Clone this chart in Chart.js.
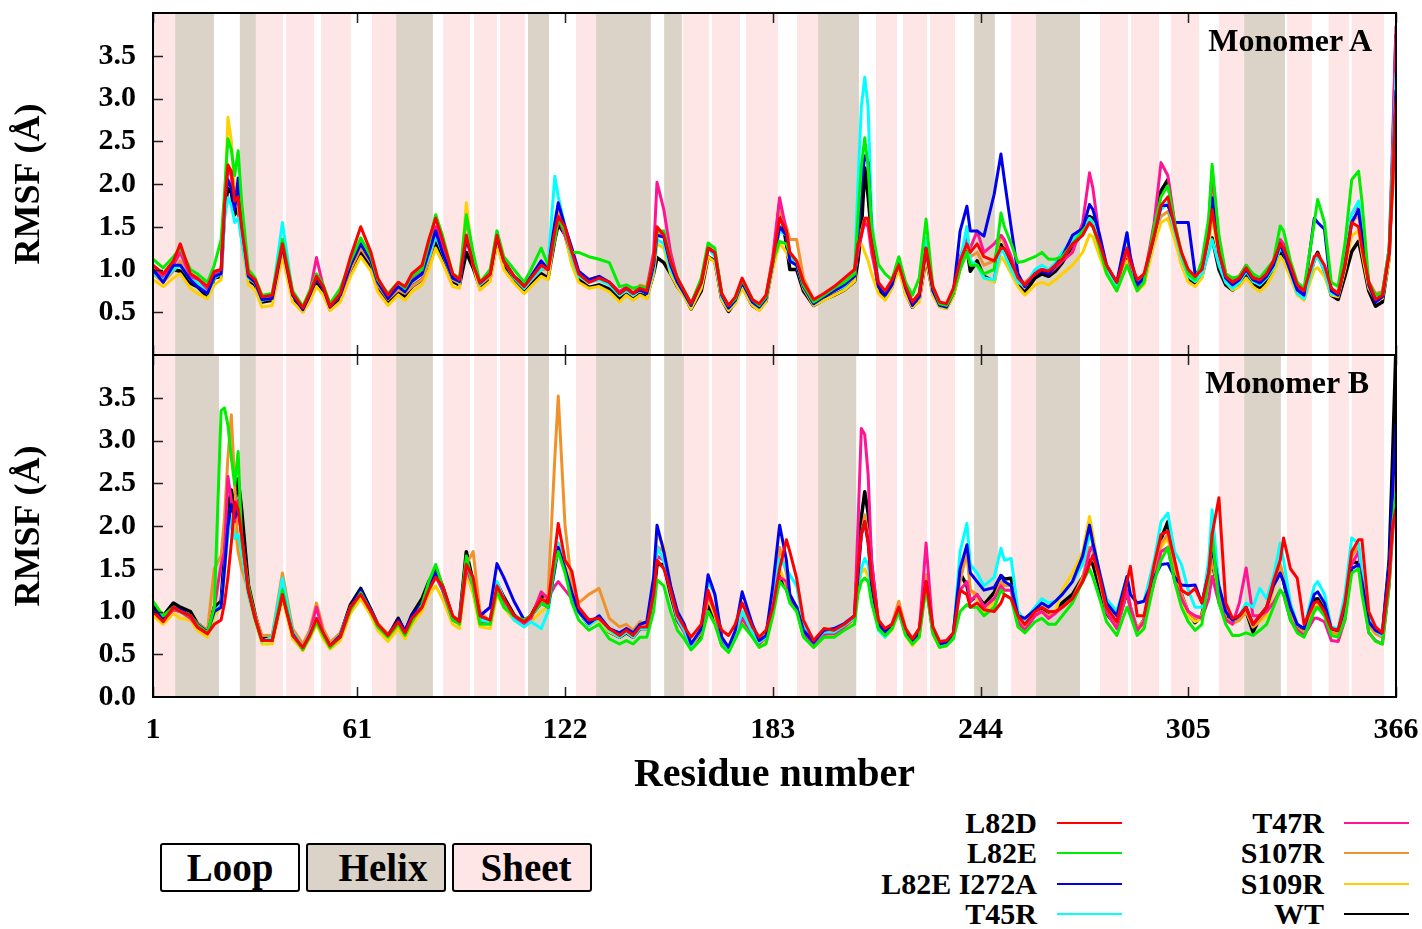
<!DOCTYPE html>
<html>
<head>
<meta charset="utf-8">
<script src="https://cdn.jsdelivr.net/npm/chart.js@4.4.1/dist/chart.umd.min.js"></script>
<style>
  body { margin: 0; background: #fff; }
  #wrap { position: relative; width: 1422px; height: 929px; overflow: hidden;
          font-family: 'Liberation Serif', 'Times New Roman', serif; font-weight: bold; color: #000; }
  canvas { position: absolute; left: 0; }
  .mono { position: absolute; width: 300px; text-align: right; font-size: 32px; line-height: 38px; }
  .lab { position: absolute; width: 260px; text-align: right; font-size: 30px; line-height: 36px; }
  .swatch { position: absolute; height: 0; border-top: 2.5px solid; }
  .box { position: absolute; box-sizing: border-box; height: 49px; width: 140px; border: 2px solid #000;
         border-radius: 3px; font-size: 39px; line-height: 45px; text-align: center; }
</style>
</head>
<body>
<div id="wrap">
  <canvas id="chartA" width="1422" height="356" style="top:0"></canvas>
  <canvas id="chartB" width="1422" height="460" style="top:340px"></canvas>
  <div class="mono" style="left:1072px; top:21px">Monomer A</div>
  <div class="mono" style="left:1069px; top:363px">Monomer B</div>
  <div class="box" style="left:160px; top:843px; background:#fff">Loop</div>
  <div class="box" style="left:306px; top:843px; background:#dcd3c8; padding-left:14px">Helix</div>
  <div class="box" style="left:452px; top:843px; background:#fee6e6; padding-left:8px">Sheet</div>
  <div id="legend"></div>
</div>
<script>
// residue positions sampled along the x axis (shared by both monomers)
const RESIDUES = [1,4,7,9,12,14,17,19,21,22,
  23,24,25,26,27,29,31,33,36,39,
  42,45,47,49,51,53,56,59,62,65,
  67,70,73,75,77,80,82,84,86,89,
  91,93,95,97,100,102,104,107,110,112,
  115,117,119,120,122,124,126,129,132,135,
  138,140,142,144,146,148,149,151,153,155,
  157,159,162,164,166,168,170,172,174,177,
  179,181,183,185,187,188,190,192,195,198,
  201,204,207,208,209,210,211,212,214,216,
  218,220,222,224,226,228,230,232,234,236,
  238,240,241,243,245,248,250,251,253,255,
  257,260,262,264,266,268,271,274,276,277,
  279,281,284,287,288,290,292,295,297,299,
  301,303,305,307,309,311,312,314,316,318,
  320,322,324,326,328,330,332,333,335,337,
  339,342,343,345,347,349,351,353,355,356,
  358,360,362,364,365,366];

const X_TICKS = [1, 61, 122, 183, 244, 305, 366];

// secondary structure ranges (residue start, end)
const HELIX_A = [[7.5,18.9],[26.5,31.2],[72.4,83.2],[111.1,117.3],[131.1,147.2],[151.1,156.3],[196.3,208.3],[242.1,248.2],[260.3,273.2],[321.4,333.4]];
const SHEET_A = [[1,7.5],[31.2,39.2],[40.1,48.3],[50.3,59.1],[65.3,72.4],[86.2,94.1],[95.3,102.0],[102.9,110.2],[125.2,131.1],[156.6,164.3],[165.1,173.4],[175.1,184.5],[190.1,196.3],[213.3,219.5],[221.2,228.3],[229.2,236.5],[253.0,260.3],[279.1,287.3],[288.2,296.4],[299.9,308.2],[314.0,321.4],[334.0,341.3],[346.2,352.2],[353.0,362.5]];
const HELIX_B = [[7.5,20.4],[26.5,31.2],[72.4,83.2],[111.1,117.3],[131.1,147.2],[151.1,156.9],[196.3,207.5],[242.1,249.1],[260.3,273.2],[321.4,332.2]];
const SHEET_B = SHEET_A;

const SERIES_NAMES = ['L82D', 'L82E', 'L82E I272A', 'T45R', 'T47R', 'S107R', 'S109R', 'WT'];
const SERIES_COLORS = ['#ff0000', '#00ee00', '#0000ee', '#00ffff', '#ff1493', '#f0922b', '#ffd000', '#000000'];

// ---- Monomer A RMSF ----
const L82D_A = [1.05,0.95,1.10,1.30,0.95,0.90,0.80,0.98,1.00,1.75,
  2.22,2.15,1.80,1.85,1.50,0.95,0.88,0.68,0.70,1.30,
  0.72,0.55,0.72,0.92,0.80,0.57,0.72,1.15,1.50,1.20,
  0.90,0.70,0.85,0.80,0.95,1.05,1.35,1.60,1.35,0.95,
  0.88,1.40,1.05,0.85,0.95,1.40,1.10,0.92,0.80,0.90,
  1.05,1.00,1.45,1.62,1.50,1.20,0.95,0.85,0.90,0.85,
  0.72,0.78,0.72,0.78,0.75,1.10,1.50,1.40,1.10,0.90,
  0.75,0.60,0.85,1.25,1.20,0.72,0.58,0.68,0.90,0.65,
  0.60,0.70,1.10,1.60,1.45,1.20,1.10,0.85,0.65,0.72,
  0.80,0.90,1.00,1.30,1.40,1.60,1.60,1.30,0.85,0.75,
  0.88,1.05,0.80,0.62,0.72,1.25,0.80,0.62,0.60,0.78,
  1.10,1.30,1.20,1.30,1.15,1.10,1.25,1.25,1.10,0.90,
  0.82,0.95,1.00,0.98,1.05,1.12,1.30,1.40,1.55,1.50,
  1.30,1.05,0.85,1.25,1.10,0.88,0.95,1.40,1.75,1.85,
  1.50,1.20,1.00,0.92,1.00,1.40,1.70,1.20,0.92,0.85,
  0.90,1.02,0.90,0.88,0.95,1.10,1.30,1.25,1.05,0.82,
  0.75,1.15,1.18,1.05,0.78,0.72,1.05,1.55,1.50,1.25,
  0.85,0.65,0.70,1.20,2.00,3.00];
const L82E_A = [1.12,1.02,1.15,1.25,1.00,0.95,0.85,1.05,1.35,1.90,
  2.53,2.40,2.10,2.39,1.80,1.00,0.90,0.70,0.72,1.35,
  0.75,0.57,0.75,0.95,0.82,0.60,0.78,1.10,1.37,1.15,
  0.88,0.72,0.85,0.78,0.92,1.00,1.30,1.64,1.40,0.95,
  0.90,1.64,1.20,0.85,1.00,1.45,1.15,1.00,0.85,1.00,
  1.25,1.05,1.35,1.60,1.45,1.20,1.20,1.15,1.12,1.08,
  0.80,0.82,0.78,0.80,0.78,1.10,1.45,1.45,1.10,0.90,
  0.75,0.60,0.90,1.31,1.25,0.72,0.58,0.66,0.88,0.65,
  0.58,0.68,1.10,1.33,1.30,1.20,1.10,0.82,0.62,0.70,
  0.78,0.85,0.95,1.60,2.20,2.54,2.20,1.50,1.06,0.95,
  0.88,1.15,0.85,0.70,0.90,1.59,0.80,0.60,0.58,0.72,
  1.00,1.20,1.05,1.05,0.95,1.00,1.66,1.50,1.30,1.08,
  1.10,1.15,1.20,1.12,1.12,1.15,1.30,1.45,1.55,1.50,
  1.25,0.95,0.75,1.05,0.95,0.75,0.85,1.50,1.85,1.98,
  1.55,1.20,0.95,0.88,1.10,1.60,2.23,1.40,0.95,0.90,
  0.92,1.05,0.95,0.90,1.00,1.10,1.51,1.45,1.10,0.85,
  0.78,1.55,1.82,1.55,0.85,0.80,1.30,2.05,2.15,1.80,
  0.85,0.70,0.72,1.25,2.10,2.90];
const L82E_I272A_A = [1.00,0.85,1.05,1.05,0.88,0.80,0.72,0.92,0.95,1.80,
  2.05,1.95,1.70,2.07,1.55,0.92,0.85,0.65,0.66,1.28,
  0.70,0.53,0.70,0.90,0.78,0.56,0.70,1.05,1.30,1.10,
  0.85,0.66,0.80,0.74,0.86,0.95,1.20,1.45,1.20,0.90,
  0.86,1.35,1.10,0.84,0.95,1.38,1.10,0.92,0.82,0.92,
  1.10,1.00,1.55,1.78,1.50,1.25,0.98,0.88,0.92,0.85,
  0.72,0.78,0.72,0.76,0.72,1.05,1.40,1.38,1.05,0.85,
  0.72,0.58,0.85,1.25,1.20,0.70,0.55,0.64,0.85,0.62,
  0.56,0.66,1.08,1.50,1.40,1.10,1.05,0.80,0.60,0.68,
  0.75,0.82,0.92,1.40,2.00,2.33,2.25,1.45,0.80,0.70,
  0.82,1.10,0.78,0.58,0.68,1.25,0.75,0.58,0.56,0.72,
  1.45,1.74,1.45,1.45,1.39,1.88,2.35,2.05,1.49,0.95,
  0.80,0.95,0.98,0.95,1.05,1.15,1.40,1.48,1.76,1.70,
  1.40,1.05,0.85,1.43,1.15,0.82,0.90,1.40,1.75,1.75,
  1.55,1.55,1.55,0.95,1.00,1.40,1.84,1.20,0.90,0.82,
  0.88,1.00,0.88,0.84,0.92,1.05,1.30,1.20,0.98,0.76,
  0.70,1.60,1.55,1.47,0.75,0.70,1.05,1.55,1.70,1.40,
  0.82,0.62,0.68,1.20,2.10,3.10];
const T45R_A = [0.95,0.88,1.00,1.05,0.88,0.85,0.72,0.90,0.95,1.60,
  1.84,1.75,1.55,1.60,1.35,0.90,0.85,0.64,0.68,1.55,
  0.72,0.54,0.72,0.92,0.80,0.57,0.72,1.10,1.35,1.12,
  0.85,0.68,0.80,0.74,0.86,0.95,1.15,1.40,1.20,0.90,
  0.85,1.40,1.10,0.83,0.95,1.45,1.10,0.90,0.78,0.88,
  1.00,1.05,2.09,1.85,1.50,1.15,0.92,0.85,0.88,0.82,
  0.70,0.76,0.70,0.76,0.72,1.00,1.35,1.30,1.00,0.85,
  0.72,0.58,0.85,1.25,1.15,0.68,0.55,0.64,0.85,0.62,
  0.56,0.66,1.08,1.45,1.40,1.15,1.05,0.80,0.60,0.68,
  0.76,0.80,0.95,2.00,2.90,3.25,2.90,1.60,0.85,0.70,
  0.85,1.10,0.78,0.60,0.70,1.37,0.76,0.58,0.56,0.75,
  1.10,1.50,1.10,1.05,0.90,0.88,1.25,1.18,1.00,0.85,
  0.80,1.00,1.05,1.00,1.08,1.20,1.35,1.45,1.60,1.55,
  1.30,1.00,0.80,1.43,1.10,0.82,0.90,1.40,1.70,1.78,
  1.45,1.15,0.92,0.86,0.95,1.20,1.35,1.05,0.85,0.78,
  0.85,0.98,0.86,0.82,0.90,1.02,1.25,1.20,0.98,0.72,
  0.66,1.10,1.15,0.98,0.72,0.70,1.10,1.65,1.80,1.45,
  0.85,0.68,0.70,1.25,2.20,3.30];
const T47R_A = [1.00,0.92,1.05,1.20,0.92,0.88,0.75,0.95,1.00,1.80,
  2.19,2.10,1.80,1.85,1.45,0.92,0.86,0.66,0.68,1.35,
  0.72,0.55,0.72,1.14,0.80,0.58,0.72,1.05,1.30,1.12,
  0.86,0.68,0.80,0.75,0.88,0.98,1.25,1.50,1.25,0.92,
  0.86,1.40,1.10,0.84,0.95,1.40,1.10,0.92,0.80,0.90,
  1.05,1.00,1.35,1.60,1.40,1.18,0.96,0.88,0.90,0.85,
  0.74,0.80,0.72,0.80,0.78,1.20,2.02,1.70,1.20,0.88,
  0.74,0.60,0.85,1.25,1.18,0.70,0.56,0.66,0.88,0.64,
  0.58,0.68,1.15,1.84,1.45,1.20,1.10,0.85,0.64,0.70,
  0.78,0.85,0.95,1.20,1.40,1.55,1.50,1.20,0.82,0.72,
  0.86,1.08,0.80,0.62,0.72,1.25,0.78,0.60,0.58,0.75,
  1.15,1.35,1.25,1.45,1.20,1.30,1.40,1.35,1.15,0.88,
  0.82,0.98,1.00,0.95,1.02,1.10,1.20,1.55,2.13,1.95,
  1.35,1.00,0.80,1.25,1.05,0.80,0.88,1.55,2.25,2.10,
  1.55,1.15,0.95,0.88,1.05,1.55,2.15,1.30,0.95,0.86,
  0.92,1.05,0.92,0.88,0.96,1.08,1.35,1.30,1.05,0.80,
  0.72,1.10,1.18,1.00,0.76,0.72,1.10,1.65,1.76,1.40,
  0.85,0.70,0.72,1.25,2.50,3.85];
const S107R_A = [0.95,0.85,0.98,1.10,0.88,0.82,0.74,0.92,0.98,1.75,
  2.23,2.10,1.75,1.80,1.40,0.90,0.84,0.64,0.66,1.25,
  0.70,0.54,0.70,0.90,0.78,0.56,0.70,1.00,1.25,1.08,
  0.82,0.65,0.76,0.72,0.80,0.88,1.10,1.40,1.20,0.88,
  0.84,1.60,1.10,0.82,0.92,1.40,1.10,0.92,0.80,0.88,
  1.00,1.00,1.50,1.70,1.45,1.15,0.95,0.88,0.92,0.85,
  0.72,0.80,0.72,0.82,0.80,1.10,1.45,1.40,1.05,0.88,
  0.75,0.60,0.88,1.28,1.20,0.72,0.58,0.66,0.88,0.64,
  0.58,0.68,1.15,1.70,1.50,1.35,1.35,0.90,0.64,0.70,
  0.78,0.84,0.95,1.25,1.45,1.60,1.55,1.25,0.82,0.72,
  0.86,1.10,0.80,0.62,0.72,1.20,0.78,0.60,0.58,0.74,
  1.05,1.30,1.15,1.20,1.05,1.10,1.40,1.30,1.12,0.88,
  0.85,0.95,1.00,1.00,1.05,1.12,1.30,1.45,1.57,1.55,
  1.35,1.05,0.85,1.20,1.05,0.85,0.92,1.45,1.62,1.68,
  1.45,1.20,0.95,0.90,1.05,1.45,1.96,1.25,0.95,0.88,
  0.92,1.05,0.92,0.88,0.96,1.10,1.35,1.28,1.05,0.80,
  0.74,1.10,1.18,1.00,0.76,0.74,1.10,1.55,1.64,1.35,
  0.86,0.72,0.74,1.20,1.90,2.40];
const S109R_A = [0.88,0.80,0.90,0.95,0.78,0.72,0.66,0.82,0.88,1.70,
  2.78,2.50,1.90,1.75,1.35,0.82,0.76,0.56,0.58,1.15,
  0.62,0.50,0.62,0.80,0.70,0.52,0.62,0.92,1.15,0.98,
  0.74,0.58,0.70,0.64,0.74,0.82,1.00,1.25,1.08,0.80,
  0.78,1.78,1.05,0.76,0.86,1.30,1.00,0.84,0.72,0.80,
  0.92,0.88,1.40,1.65,1.40,1.05,0.85,0.78,0.80,0.74,
  0.62,0.70,0.64,0.70,0.66,0.95,1.30,1.25,0.95,0.80,
  0.68,0.54,0.78,1.15,1.08,0.64,0.52,0.60,0.78,0.58,
  0.52,0.62,1.00,1.31,1.20,1.10,1.05,0.78,0.58,0.64,
  0.70,0.76,0.86,1.35,1.30,1.20,1.10,0.95,0.72,0.64,
  0.78,1.00,0.70,0.56,0.62,1.15,0.70,0.56,0.54,0.68,
  1.00,1.50,1.10,1.05,0.90,0.85,1.15,1.10,0.95,0.80,
  0.70,0.82,0.85,0.82,0.88,0.95,1.05,1.20,1.41,1.38,
  1.15,0.95,0.75,1.10,0.95,0.75,0.82,1.30,1.55,1.60,
  1.35,1.05,0.85,0.80,0.90,1.25,1.64,1.15,0.85,0.76,
  0.80,0.90,0.80,0.74,0.82,0.95,1.15,1.10,0.90,0.70,
  0.64,1.00,1.02,0.92,0.70,0.68,1.00,1.40,1.45,1.20,
  0.78,0.64,0.66,1.10,2.20,2.80];
const WT_A = [0.98,0.88,1.00,0.98,0.84,0.80,0.68,0.90,0.92,1.68,
  1.95,1.90,1.64,1.72,1.40,0.88,0.82,0.62,0.64,1.23,
  0.67,0.51,0.67,0.86,0.75,0.53,0.67,0.98,1.20,1.02,
  0.79,0.62,0.75,0.69,0.80,0.88,1.06,1.31,1.12,0.86,
  0.82,1.20,1.02,0.79,0.90,1.33,1.04,0.87,0.73,0.82,
  0.95,0.90,1.35,1.53,1.41,1.10,0.88,0.79,0.82,0.77,
  0.65,0.71,0.65,0.71,0.68,0.95,1.14,1.08,0.95,0.80,
  0.70,0.54,0.75,1.15,1.10,0.65,0.51,0.62,0.80,0.58,
  0.53,0.63,1.05,1.76,1.30,1.00,1.00,0.75,0.58,0.65,
  0.70,0.76,0.86,1.10,1.45,2.19,1.85,1.40,0.75,0.66,
  0.80,1.12,0.72,0.56,0.65,1.14,0.72,0.57,0.55,0.70,
  1.02,1.25,0.98,1.10,0.92,0.86,1.29,1.22,1.05,0.82,
  0.73,0.90,0.95,0.92,0.98,1.08,1.28,1.42,1.62,1.60,
  1.29,1.00,0.78,1.14,0.98,0.78,0.84,1.45,1.92,2.05,
  1.48,1.12,0.90,0.84,0.92,1.25,1.37,1.00,0.82,0.76,
  0.82,0.94,0.82,0.79,0.86,0.98,1.23,1.16,0.95,0.73,
  0.66,1.12,1.20,0.98,0.70,0.65,0.92,1.21,1.33,1.15,
  0.75,0.57,0.62,1.14,2.20,3.75];

// ---- Monomer B RMSF ----
const L82D_B = [1.00,0.88,1.05,1.00,0.95,0.82,0.74,0.85,0.90,1.10,
  1.40,1.80,2.28,2.20,1.90,1.25,0.92,0.66,0.66,1.20,
  0.72,0.58,0.72,0.92,0.75,0.60,0.70,1.05,1.20,1.00,
  0.85,0.72,0.88,0.75,0.92,1.05,1.25,1.40,1.30,0.95,
  0.88,1.55,1.40,0.95,0.90,1.30,1.15,0.95,0.88,0.95,
  1.15,1.10,1.70,2.03,1.60,1.47,1.05,0.90,0.92,0.80,
  0.72,0.78,0.72,0.82,0.82,1.20,1.60,1.50,1.25,0.95,
  0.82,0.70,0.85,1.25,1.00,0.78,0.72,0.85,1.10,0.82,
  0.70,0.78,1.05,1.50,1.84,1.70,1.39,0.90,0.66,0.80,
  0.78,0.85,0.95,1.50,1.90,2.05,1.80,1.40,0.90,0.80,
  0.85,1.05,0.80,0.68,0.80,1.35,0.82,0.65,0.66,0.75,
  1.25,1.20,1.05,1.10,1.02,1.00,1.10,1.20,1.15,0.95,
  0.85,1.00,1.05,1.00,1.00,1.05,1.15,1.35,1.55,1.66,
  1.40,1.05,0.88,1.35,1.53,0.95,0.95,1.55,1.90,1.94,
  1.60,1.25,1.20,1.27,1.10,1.45,1.90,2.33,1.10,0.92,
  0.95,1.05,0.85,0.95,1.05,1.35,1.60,1.86,1.50,1.39,
  0.85,1.10,1.12,1.00,0.80,0.78,1.10,1.70,1.84,1.84,
  1.00,0.82,0.75,1.40,2.00,2.20];
const L82E_B = [1.12,0.95,1.05,1.00,0.95,0.84,0.75,1.05,3.35,3.38,
  3.18,2.80,2.48,2.87,1.85,1.30,0.92,0.66,0.66,1.25,
  0.72,0.56,0.70,0.88,0.72,0.58,0.70,1.02,1.22,1.00,
  0.82,0.70,0.85,0.72,0.88,1.08,1.35,1.55,1.30,0.90,
  0.85,1.65,1.30,0.85,0.85,1.25,1.05,0.95,0.90,0.95,
  1.10,1.05,1.55,1.70,1.45,1.10,0.90,0.78,0.85,0.68,
  0.62,0.66,0.62,0.70,0.70,1.00,1.37,1.30,1.00,0.78,
  0.68,0.55,0.68,1.00,0.85,0.60,0.52,0.68,0.85,0.70,
  0.58,0.62,0.95,1.35,1.25,1.10,1.00,0.70,0.58,0.70,
  0.70,0.78,0.85,1.20,1.35,1.39,1.35,1.10,0.80,0.72,
  0.80,1.00,0.72,0.62,0.70,1.30,0.74,0.58,0.60,0.68,
  1.00,1.08,1.05,1.05,0.95,1.05,1.25,1.20,1.15,0.82,
  0.75,0.88,0.92,0.85,0.85,0.95,1.10,1.35,1.50,1.40,
  1.15,0.88,0.72,1.05,0.95,0.72,0.80,1.35,1.60,1.75,
  1.35,1.05,0.88,0.78,0.85,1.40,1.92,1.10,0.85,0.72,
  0.72,0.75,0.72,0.78,0.85,1.05,1.25,1.20,0.90,0.75,
  0.70,1.00,1.05,0.95,0.72,0.70,0.90,1.45,1.50,1.20,
  0.76,0.65,0.62,1.30,2.00,2.40];
const L82E_I272A_B = [1.02,0.92,1.05,1.02,0.95,0.85,0.76,1.00,1.05,1.50,
  2.00,2.25,2.10,2.20,1.90,1.25,0.92,0.66,0.66,1.20,
  0.74,0.56,0.72,0.90,0.74,0.60,0.72,1.05,1.25,1.02,
  0.84,0.72,0.90,0.78,0.95,1.10,1.30,1.45,1.28,0.92,
  0.90,1.60,1.35,0.95,1.05,1.56,1.40,1.12,0.90,0.95,
  1.10,1.05,1.50,1.75,1.50,1.22,1.00,0.86,0.95,0.80,
  0.75,0.80,0.75,0.85,0.88,1.40,2.01,1.70,1.30,1.00,
  0.85,0.62,0.80,1.43,1.20,0.70,0.58,0.78,1.23,0.85,
  0.66,0.72,1.30,2.01,1.60,1.20,1.05,0.78,0.64,0.78,
  0.80,0.86,0.95,1.40,1.90,2.05,1.80,1.30,0.85,0.76,
  0.84,1.02,0.76,0.64,0.76,1.35,0.78,0.62,0.64,0.74,
  1.50,1.78,1.45,1.35,1.25,1.28,1.42,1.35,1.30,0.95,
  0.92,1.02,1.10,1.05,1.12,1.20,1.35,1.65,2.01,1.80,
  1.45,1.10,0.95,1.41,1.20,1.10,1.12,1.40,1.55,1.56,
  1.40,1.31,1.30,1.31,1.10,1.45,1.75,1.30,1.00,0.90,
  0.95,1.05,0.85,0.95,1.05,1.30,1.45,1.35,1.05,0.85,
  0.80,1.20,1.23,1.10,0.80,0.78,1.05,1.50,1.55,1.35,
  0.88,0.78,0.74,1.55,2.40,3.20];
const T45R_B = [1.00,0.90,1.05,1.00,0.95,0.84,0.75,1.00,1.08,1.50,
  1.90,2.09,1.85,1.90,1.70,1.20,0.90,0.65,0.70,1.39,
  0.76,0.57,0.74,0.92,0.75,0.60,0.72,1.05,1.22,1.00,
  0.84,0.72,0.88,0.76,0.92,1.10,1.30,1.45,1.28,0.90,
  0.88,1.60,1.30,0.90,0.88,1.35,1.15,0.90,0.82,0.88,
  0.80,1.00,1.50,1.80,1.50,1.20,1.00,0.84,0.92,0.78,
  0.70,0.76,0.70,0.80,0.80,1.25,1.75,1.60,1.25,0.92,
  0.78,0.60,0.80,1.35,1.20,0.70,0.55,0.74,1.00,0.76,
  0.64,0.70,1.15,1.62,1.50,1.43,1.30,0.85,0.64,0.76,
  0.76,0.84,0.92,1.30,1.50,1.62,1.55,1.25,0.78,0.70,
  0.80,1.00,0.74,0.62,0.74,1.30,0.76,0.60,0.62,0.72,
  1.70,2.03,1.55,1.45,1.30,1.40,1.74,1.60,1.62,1.00,
  0.90,1.05,1.15,1.10,1.12,1.20,1.35,1.55,1.90,1.80,
  1.45,1.15,1.00,1.40,1.20,1.10,1.12,1.60,2.05,2.15,
  1.70,1.55,1.25,1.05,1.05,1.60,2.19,1.30,1.00,0.90,
  0.95,1.10,1.05,1.27,1.15,1.40,1.80,1.60,1.10,0.85,
  0.80,1.30,1.35,1.20,0.82,0.80,1.20,1.86,1.80,1.45,
  0.92,0.78,0.72,1.50,2.10,2.40];
const T47R_B = [1.00,0.90,1.02,1.00,0.92,0.82,0.74,1.05,1.55,1.70,
  2.58,2.30,2.05,2.30,1.90,1.25,0.92,0.66,0.68,1.30,
  0.74,0.57,0.74,1.05,0.74,0.60,0.72,1.05,1.22,1.00,
  0.84,0.72,0.88,0.76,0.90,1.05,1.28,1.42,1.25,0.90,
  0.86,1.50,1.30,0.88,0.86,1.30,1.12,0.92,0.85,0.92,
  1.23,1.15,1.30,1.35,1.25,1.15,1.00,0.90,0.92,0.80,
  0.72,0.76,0.72,0.82,0.80,1.20,1.65,1.60,1.22,0.90,
  0.76,0.60,0.78,1.20,1.00,0.66,0.56,0.72,0.92,0.74,
  0.62,0.70,1.05,1.40,1.35,1.15,1.05,0.74,0.62,0.74,
  0.74,0.82,0.92,2.00,3.14,3.07,2.60,1.60,0.86,0.76,
  0.84,1.05,0.76,0.64,0.76,1.80,0.78,0.60,0.62,0.72,
  1.25,1.35,1.12,1.20,1.05,1.15,1.30,1.25,1.25,0.88,
  0.78,0.95,1.00,0.92,0.98,1.05,1.15,1.35,1.70,1.78,
  1.40,1.00,0.80,1.25,1.05,0.78,0.88,1.35,1.70,1.75,
  1.35,1.15,1.00,0.95,0.92,1.15,1.41,1.10,0.90,0.85,
  1.10,1.51,0.95,0.95,1.00,1.10,1.25,1.20,0.90,0.78,
  0.72,0.92,0.92,0.88,0.66,0.65,0.90,1.55,1.70,1.30,
  0.75,0.66,0.62,1.30,1.90,2.30];
const S107R_B = [1.00,0.90,1.02,1.00,0.95,0.86,0.78,1.50,1.65,2.10,
  2.80,3.30,2.48,1.70,1.50,1.25,0.96,0.72,0.72,1.45,
  0.80,0.62,0.78,1.10,0.80,0.64,0.75,1.05,1.22,1.00,
  0.86,0.74,0.88,0.76,0.90,1.05,1.28,1.42,1.25,0.92,
  0.92,1.55,1.70,1.00,0.88,1.30,1.12,0.95,0.88,0.95,
  1.10,1.20,2.80,3.52,2.00,1.30,1.10,1.20,1.27,0.92,
  0.82,0.85,0.78,0.88,0.85,1.25,1.76,1.70,1.30,0.95,
  0.80,0.62,0.78,1.20,1.00,0.68,0.58,0.74,0.95,0.76,
  0.64,0.70,1.10,1.75,1.45,1.20,1.05,0.78,0.62,0.74,
  0.74,0.84,0.95,1.50,1.90,2.13,1.90,1.40,0.90,0.78,
  0.86,1.12,0.80,0.68,0.80,1.43,0.82,0.64,0.65,0.74,
  1.35,1.70,1.25,1.20,1.05,1.15,1.35,1.30,1.30,0.90,
  0.82,0.98,1.00,0.95,1.00,1.05,1.15,1.40,1.75,1.70,
  1.35,1.00,0.85,1.30,1.05,0.80,0.90,1.45,1.80,1.90,
  1.50,1.20,1.00,0.92,0.95,1.35,1.60,1.20,0.92,0.86,
  0.90,1.00,0.82,0.90,1.00,1.30,1.55,1.40,1.00,0.80,
  0.76,1.05,1.05,0.98,0.76,0.74,1.00,1.65,1.76,1.35,
  0.85,0.74,0.70,1.50,2.10,2.50];
const S109R_B = [0.95,0.85,0.98,0.92,0.90,0.78,0.70,0.95,1.05,1.45,
  1.90,2.11,1.95,1.70,1.60,1.18,0.88,0.62,0.62,1.15,
  0.68,0.54,0.68,0.85,0.68,0.56,0.66,0.98,1.15,0.95,
  0.78,0.65,0.80,0.68,0.84,1.00,1.20,1.30,1.15,0.85,
  0.80,1.45,1.20,0.82,0.80,1.20,1.05,0.90,0.82,0.88,
  1.00,1.05,1.55,1.80,1.55,1.25,1.00,0.84,0.90,0.76,
  0.70,0.76,0.70,0.82,0.82,1.30,1.92,1.76,1.30,0.92,
  0.76,0.58,0.76,1.15,0.95,0.64,0.55,0.70,0.90,0.72,
  0.60,0.66,1.00,1.50,1.30,1.15,1.05,0.72,0.58,0.70,
  0.72,0.80,0.90,1.30,1.45,1.50,1.40,1.20,0.80,0.70,
  0.78,1.00,0.72,0.60,0.70,1.30,0.74,0.58,0.60,0.70,
  1.40,1.70,1.25,1.15,1.00,1.10,1.30,1.25,1.25,0.88,
  0.80,0.95,1.00,0.92,1.00,1.25,1.45,1.70,2.11,1.90,
  1.40,1.00,0.80,1.25,1.05,0.78,0.85,1.40,1.75,1.86,
  1.45,1.15,0.95,0.88,0.92,1.40,1.82,1.20,0.92,0.86,
  0.90,1.00,0.82,0.88,0.95,1.25,1.55,1.40,1.00,0.78,
  0.74,1.05,1.08,0.98,0.74,0.72,1.00,1.65,1.76,1.35,
  0.84,0.74,0.70,1.45,2.20,2.60];
const WT_B = [1.06,0.95,1.10,1.05,1.00,0.86,0.77,1.05,1.12,1.70,
  2.20,2.42,2.25,2.55,2.20,1.31,0.96,0.68,0.68,1.23,
  0.75,0.57,0.73,0.90,0.73,0.59,0.73,1.08,1.27,1.02,
  0.85,0.71,0.92,0.76,0.96,1.15,1.35,1.50,1.30,0.93,
  0.90,1.70,1.35,0.90,0.88,1.33,1.17,0.96,0.86,0.95,
  1.18,1.10,1.55,1.78,1.52,1.22,1.00,0.84,0.94,0.76,
  0.70,0.75,0.70,0.80,0.80,1.19,1.55,1.55,1.20,0.90,
  0.77,0.58,0.72,1.08,0.92,0.62,0.55,0.72,0.92,0.73,
  0.62,0.69,1.04,1.41,1.26,1.14,1.05,0.72,0.60,0.74,
  0.72,0.80,0.92,1.60,2.10,2.40,2.15,1.55,0.85,0.74,
  0.82,1.02,0.74,0.63,0.75,1.37,0.76,0.59,0.62,0.70,
  1.45,1.30,1.12,1.19,1.08,1.22,1.42,1.38,1.39,0.90,
  0.80,0.98,1.02,0.95,1.00,1.10,1.20,1.40,1.60,1.55,
  1.27,0.98,0.82,1.23,1.05,0.78,0.90,1.50,1.85,2.05,
  1.55,1.20,0.98,0.87,0.95,1.50,1.58,1.20,0.95,0.88,
  0.92,1.00,0.76,0.92,1.00,1.30,1.47,1.35,1.00,0.80,
  0.78,1.14,1.15,1.02,0.78,0.76,1.00,1.58,1.57,1.35,
  0.86,0.76,0.72,1.60,2.80,4.10];

const SERIES_A = [L82D_A, L82E_A, L82E_I272A_A, T45R_A, T47R_A, S107R_A, S109R_A, WT_A];
const SERIES_B = [L82D_B, L82E_B, L82E_I272A_B, T45R_B, T47R_B, S107R_B, S109R_B, WT_B];

const HELIX_COLOR = '#dcd3c8';
const SHEET_COLOR = '#fee6e6';
const FONT = "'Liberation Serif', 'Times New Roman', serif";

Chart.defaults.font.family = FONT;
Chart.defaults.font.weight = 'bold';
Chart.defaults.color = '#000';

// background bands + frame + inward ticks
const structPlugin = {
  id: 'struct',
  beforeDatasetsDraw(chart, args, opts) {
    const { ctx, chartArea: a, scales: { x } } = chart;
    ctx.save();
    ctx.beginPath();
    ctx.rect(a.left, a.top, a.width, a.height);
    ctx.clip();
    const fill = (ranges, color) => {
      ctx.fillStyle = color;
      ranges.forEach(([s, e]) => {
        const x0 = x.getPixelForValue(s), x1 = x.getPixelForValue(e);
        ctx.fillRect(x0, a.top, x1 - x0, a.height);
      });
    };
    fill(opts.sheet, SHEET_COLOR);
    fill(opts.helix, HELIX_COLOR);
    ctx.restore();
  },
  afterDraw(chart) {
    const { ctx, chartArea: a, scales: { x, y } } = chart;
    ctx.save();
    ctx.strokeStyle = '#222';
    ctx.lineWidth = 1.5;
    ctx.beginPath();
    X_TICKS.forEach(t => {
      const px = Math.round(x.getPixelForValue(t)) + 0.5;
      ctx.moveTo(px, a.top); ctx.lineTo(px, a.top + 10);
      ctx.moveTo(px, a.bottom); ctx.lineTo(px, a.bottom - 10);
    });
    for (let v = 0.5; v < 4; v += 0.5) {
      const py = Math.round(y.getPixelForValue(v)) + 0.5;
      ctx.moveTo(a.left, py); ctx.lineTo(a.left + 10, py);
    }
    ctx.stroke();
    ctx.strokeStyle = '#000';
    ctx.lineWidth = 2;
    ctx.strokeRect(a.left, a.top, a.width, a.height);
    ctx.restore();
  }
};

function makeChart(id, series, panel) {
  const datasets = series.map((vals, i) => ({
    label: SERIES_NAMES[i],
    data: RESIDUES.map((r, j) => ({ x: r, y: vals[j] })),
    borderColor: SERIES_COLORS[i],
    borderWidth: i === 7 ? 3.5 : 3,
    pointRadius: 0,
    tension: 0,
    borderJoinStyle: 'round'
  }));
  const isB = panel === 'B';
  return new Chart(document.getElementById(id), {
    type: 'line',
    data: { datasets },
    plugins: [structPlugin],
    options: {
      responsive: false,
      animation: false,
      devicePixelRatio: 1,
      layout: { padding: isB ? { top: 15, right: 26, bottom: 0, left: 0 } : { top: 13, right: 26, bottom: 1, left: 0 } },
      plugins: {
        legend: { display: false },
        tooltip: { enabled: false },
        struct: isB ? { helix: HELIX_B, sheet: SHEET_B } : { helix: HELIX_A, sheet: SHEET_A }
      },
      scales: {
        x: {
          type: 'linear', min: 1, max: 366,
          grid: { display: false }, border: { display: false },
          afterBuildTicks: s => { s.ticks = X_TICKS.map(v => ({ value: v })); },
          afterFit: s => { s.height = isB ? 103 : 0; s.paddingLeft = 0; s.paddingRight = 0; },
          ticks: { display: isB, font: { size: 30, weight: 'bold' }, padding: 7, maxRotation: 0, autoSkip: false },
          title: { display: isB, text: 'Residue number', font: { size: 40, weight: 'bold' }, padding: { top: 0, bottom: 0 } }
        },
        y: {
          min: 0, max: 4,
          grid: { display: false, drawTicks: false }, border: { display: false },
          afterFit: s => { s.width = 153; s.paddingTop = 0; s.paddingBottom = 0; },
          ticks: {
            stepSize: 0.5, padding: 17, font: { size: 30, weight: 'bold' },
            callback: v => (v >= 4 || (!isB && v === 0)) ? '' : v.toFixed(1)
          },
          title: { display: true, text: 'RMSF (Å)', font: { size: 36, weight: 'bold' }, padding: { top: 8, bottom: 0 } }
        }
      }
    }
  });
}

makeChart('chartA', SERIES_A, 'A');
makeChart('chartB', SERIES_B, 'B');

// series legend: two columns, label then line sample
const legend = document.getElementById('legend');
const ROW_Y = [823, 853, 884, 914];
SERIES_NAMES.forEach((name, i) => {
  const col = i < 4 ? 0 : 1, row = i % 4;
  const textRight = col ? 1324 : 1037;
  const lineLeft = col ? 1344 : 1057;
  const lab = document.createElement('div');
  lab.className = 'lab';
  lab.textContent = name;
  lab.style.left = (textRight - 260) + 'px';
  lab.style.top = (ROW_Y[row] - 18) + 'px';
  legend.appendChild(lab);
  const sw = document.createElement('div');
  sw.className = 'swatch';
  sw.style.left = lineLeft + 'px';
  sw.style.width = '65px';
  sw.style.top = (ROW_Y[row] - 1) + 'px';
  sw.style.borderColor = SERIES_COLORS[i];
  legend.appendChild(sw);
});
</script>
</body>
</html>
